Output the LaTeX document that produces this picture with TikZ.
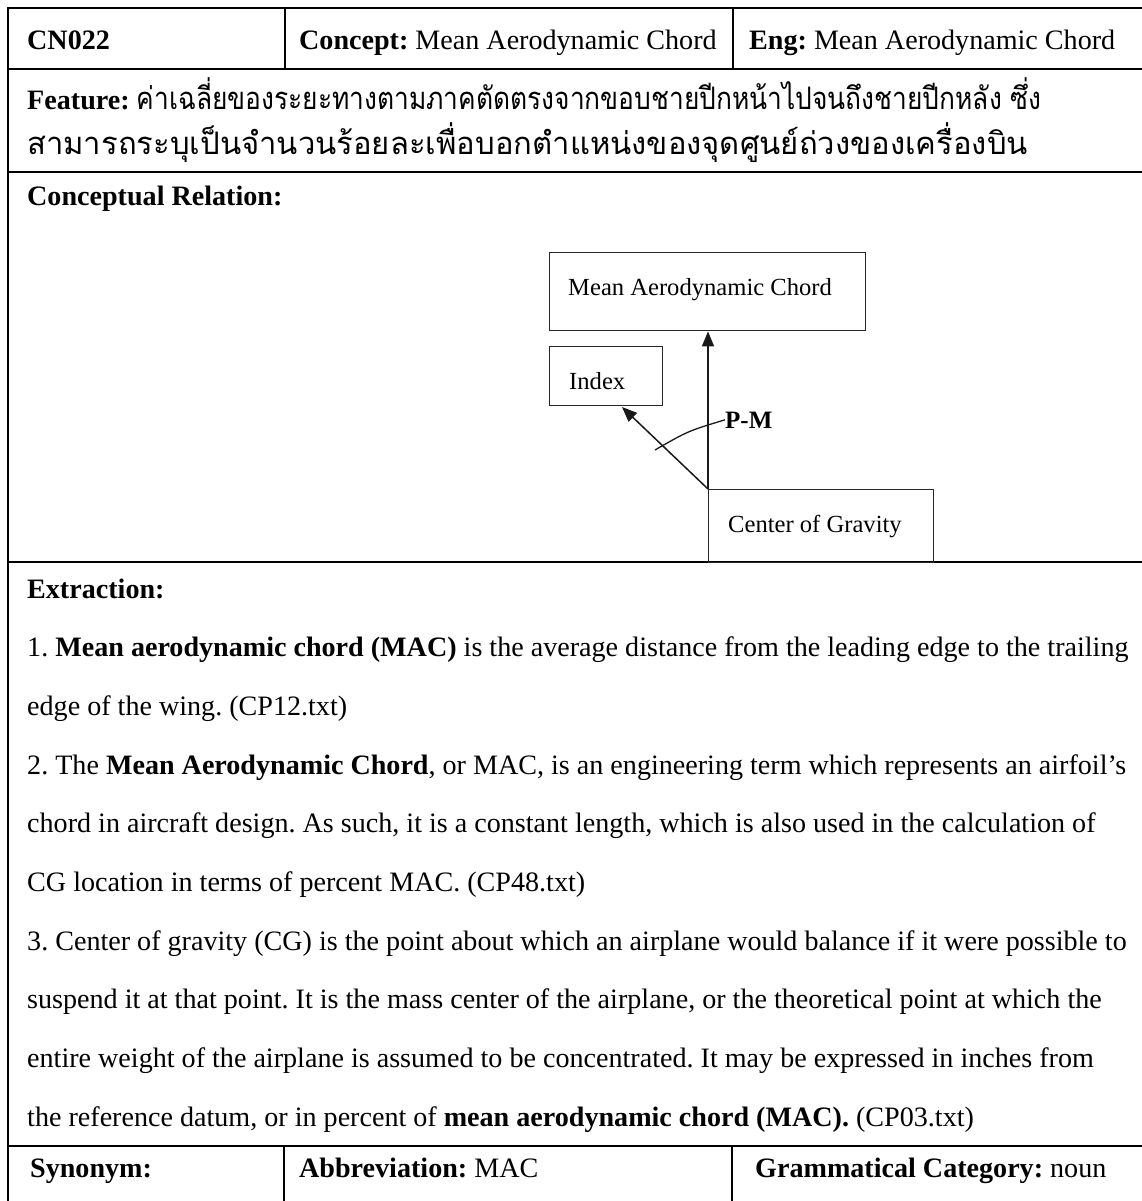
\documentclass[tikz,border=0pt]{standalone}
\usepackage{fontspec}
\usepackage{graphicx}
\setmainfont{Liberation Serif}
\newfontfamily\thaifont[Script=Thai]{Loma}
\usetikzlibrary{arrows.meta}
\frenchspacing
\begin{document}
\begin{tikzpicture}[x=1pt,y=-1pt,
  rule/.style={line width=2.4pt, line cap=rect},
  txt/.style={inner sep=0pt, anchor=base west, font=\fontsize{28.1}{32}\selectfont},
  thai/.style={inner sep=0pt, anchor=base west, font=\fontsize{31}{36}\selectfont\thaifont},
  dbox/.style={draw=black!85, line width=1.4pt, inner sep=0pt, anchor=north west},
  dtxt/.style={inner sep=0pt, anchor=base west, font=\fontsize{24.6}{28}\selectfont},
  link/.style={draw=black!90, line width=1.5pt, -{Triangle[length=15pt,width=12pt]}}]
\useasboundingbox (0,0) rectangle (1141,1201);

% table rules
\draw[rule] (8,8) -- (1141,8);
\draw[rule] (8,8) -- (8,1201);
\draw[rule] (8,69) -- (1141,69);
\draw[rule] (8,172) -- (1141,172);
\draw[rule] (8,562) -- (1141,562);
\draw[rule] (8,1146) -- (1141,1146);
\draw[rule] (285,8) -- (285,69);
\draw[rule] (733,8) -- (733,69);
\draw[rule] (284,1146) -- (284,1201);
\draw[rule] (732,1146) -- (732,1201);

% header row
\node[txt] (cid) at (27,50) {\textbf{CN022}};
\node[txt] (concept) at (299,50) {\textbf{Concept:} Mean Aerodynamic Chord};
\node[txt] (eng) at (749,50) {\textbf{Eng:} Mean Aerodynamic Chord};

% feature
\node[txt] (feat) at (27,110) {\textbf{Feature:} {\thaifont\fontsize{31}{36}\selectfont\scalebox{0.85}[1]{ค่าเฉลี่ยของระยะทางตามภาคตัดตรงจากขอบชายปีกหน้าไปจนถึงชายปีกหลัง ซึ่ง}}};
\node[thai] (feat2) at (27,155) {\scalebox{1.0}[1]{สามารถระบุเป็นจำนวนร้อยละเพื่อบอกตำแหน่งของจุดศูนย์ถ่วงของเครื่องบิน}};

% conceptual relation
\node[txt] (crel) at (27,205) {\textbf{Conceptual Relation:}};

\node[dbox, minimum width=316pt, minimum height=78pt] (mac) at (549,252) {};
\node[dbox, minimum width=113pt, minimum height=59pt] (idx) at (549,346) {};
\node[dbox, minimum width=225pt, minimum height=73pt] (cog) at (708,489) {};
\node[dtxt] (mact) at (568,295) {Mean Aerodynamic Chord};
\node[dtxt] (idxt) at (569,389) {Index};
\node[dtxt] (cogt) at (728,532) {Center of Gravity};
\node[inner sep=0pt, anchor=base west, font=\fontsize{25}{28}\selectfont\bfseries] (pm) at (725,428) {P-M};

\coordinate (idxin) at (622,407);
\coordinate (arcA) at (655,450);
\draw[link] (cog.north west) -- (cog.north west |- mac.south);
\draw[link] (cog.north west) -- (idxin);
\draw[draw=black!90, line width=1.3pt] (arcA) .. controls (688,431) .. (pm.west);

% extraction
\node[txt] (ext) at (27,598) {\textbf{Extraction:}};
\node[txt] (e1) at (27,656.7) {1. \textbf{Mean aerodynamic chord (MAC)} is the average distance from the leading edge to the trailing};
\node[txt] (e2) at (27,715.4) {edge of the wing. (CP12.txt)};
\node[txt] (e3) at (27,774.1) {2. The \textbf{Mean Aerodynamic Chord}, or MAC, is an engineering term which represents an airfoil’s};
\node[txt] (e4) at (27,832.8) {chord in aircraft design. As such, it is a constant length, which is also used in the calculation of};
\node[txt] (e5) at (27,891.5) {CG location in terms of percent MAC. (CP48.txt)};
\node[txt] (e6) at (27,950.2) {3. Center of gravity (CG) is the point about which an airplane would balance if it were possible to};
\node[txt] (e7) at (27,1008.9) {suspend it at that point. It is the mass center of the airplane, or the theoretical point at which the};
\node[txt] (e8) at (27,1067.6) {entire weight of the airplane is assumed to be concentrated. It may be expressed in inches from};
\node[txt] (e9) at (27,1126.3) {the reference datum, or in percent of \textbf{mean aerodynamic chord (MAC).} (CP03.txt)};

% bottom row
\node[txt] (syn) at (30,1177) {\textbf{Synonym:}};
\node[txt] (abbr) at (299,1177) {\textbf{Abbreviation:} MAC};
\node[txt] (gram) at (755,1177) {\textbf{Grammatical Category:} noun};
\end{tikzpicture}
\end{document}
